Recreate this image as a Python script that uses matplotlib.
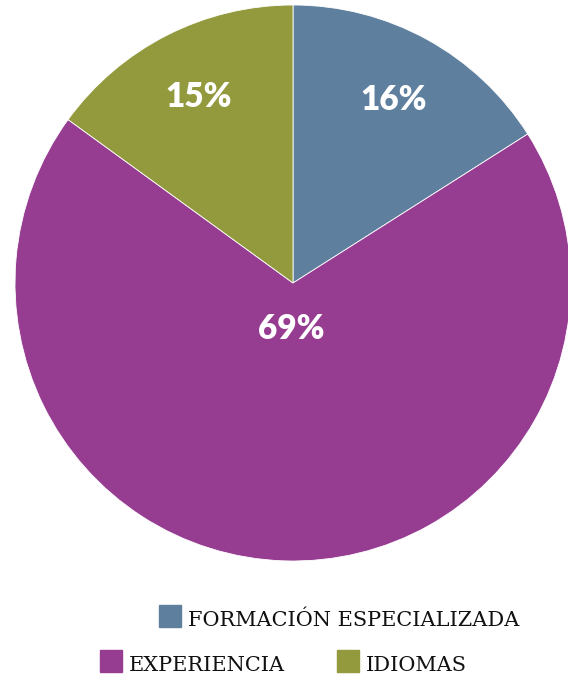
import matplotlib.pyplot as plt
from matplotlib.patches import Rectangle

# Data
categorias = ['FORMACIÓN ESPECIALIZADA', 'EXPERIENCIA', 'IDIOMAS']
porcentajes = [16, 69, 15]
colores = ['#5e809e', '#963d92', '#939a3d']

W, H = 568, 674
fig = plt.figure(figsize=(W / 100, H / 100), dpi=100)

# Pie: centro (293, 283) px, radio 278 px
cx, cy, r = 293, 283, 278
ax = fig.add_axes([(cx - r) / W, (H - cy - r) / H, 2 * r / W, 2 * r / H])
wedges, _, autotexts = ax.pie(
    porcentajes, colors=colores, startangle=90, counterclock=False,
    autopct='%d%%', pctdistance=0.75,
    wedgeprops=dict(linewidth=0.6, edgecolor='white'),
    textprops=dict(color='white', fontsize=24, fontweight='heavy', family='Lato'))
for w in wedges:
    w.set_clip_on(False)
# etiqueta grande mas cerca del centro
x, y = autotexts[1].get_position()
autotexts[1].set_position((x * 0.22, y * 0.22))
ax.set_xlim(-1, 1)
ax.set_ylim(-1, 1)
ax.set_aspect('equal')
ax.axis('off')

# Leyenda manual (cuadros + texto)
posiciones = [(159, 605), (100, 650), (337, 650)]
for (px, py), color, texto in zip(posiciones, colores, categorias):
    fig.patches.append(Rectangle((px / W, 1 - (py + 22) / H), 22 / W, 22 / H,
                                 transform=fig.transFigure, color=color))
    fig.text((px + 29) / W, 1 - (py + 21) / H, texto, fontsize=15,
             family='DejaVu Serif', color='#111111', va='baseline', ha='left')

plt.savefig('out.png', dpi=100)
